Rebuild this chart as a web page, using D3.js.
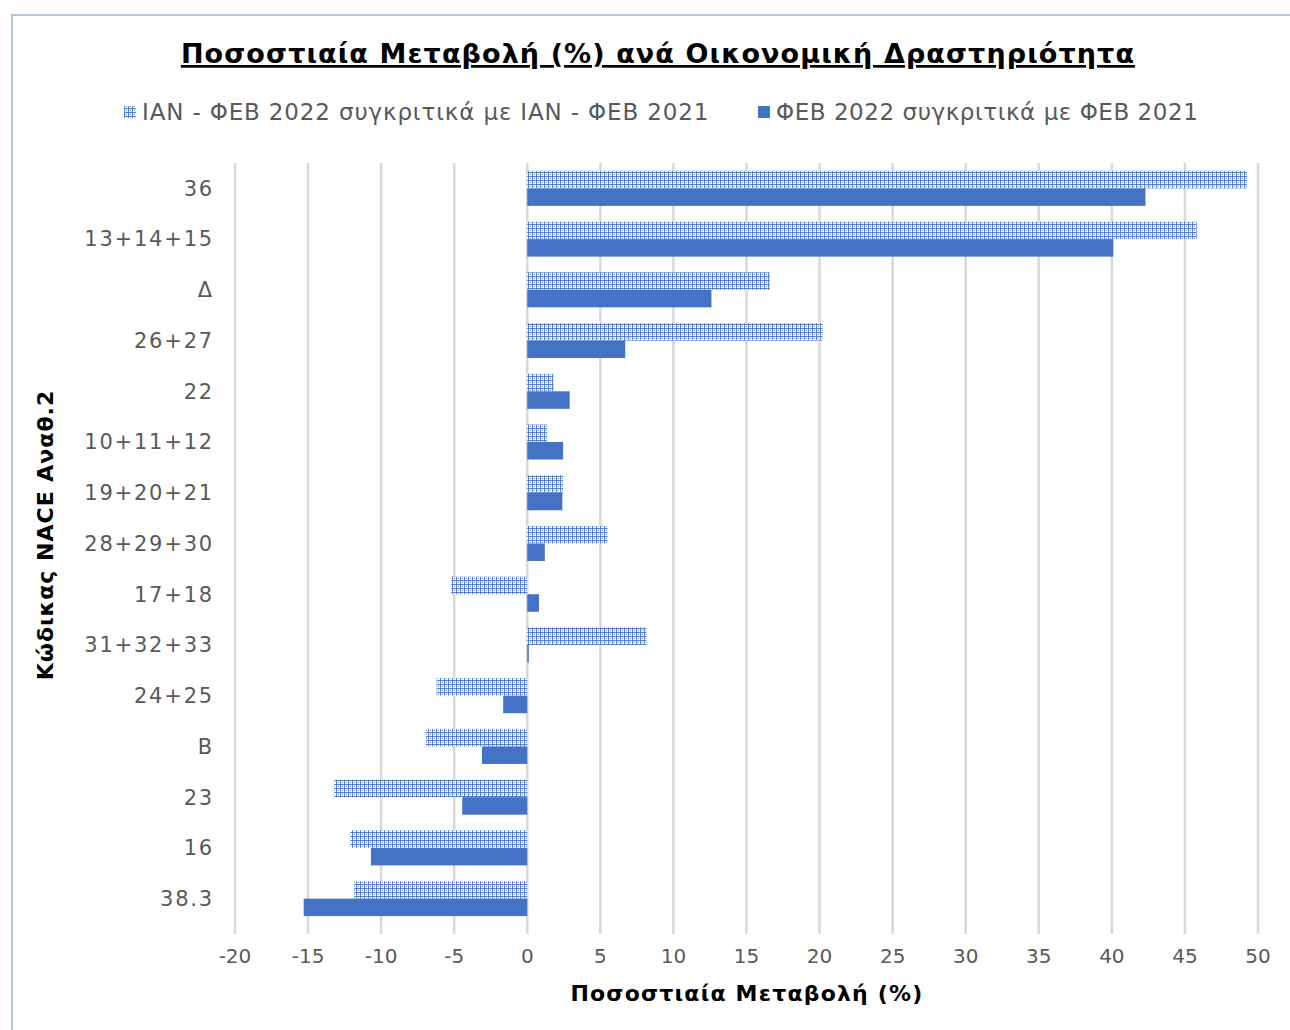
<!DOCTYPE html>
<html><head><meta charset="utf-8">
<script src="https://cdn.jsdelivr.net/npm/d3@7"></script>
<style>body{margin:0;background:#fff}svg{display:block}</style>
</head><body>
<script>
const categories = ["36","13+14+15","Δ","26+27","22","10+11+12","19+20+21","28+29+30","17+18","31+32+33","24+25","Β","23","16","38.3"];
const seriesNames = ["ΙΑΝ - ΦΕΒ 2022 συγκριτικά με ΙΑΝ - ΦΕΒ 2021","ΦΕΒ 2022 συγκριτικά με ΦΕΒ 2021"];
const janFeb = [49.25,45.8,16.6,20.2,1.8,1.35,2.45,5.5,-5.2,8.15,-6.2,-6.95,-13.2,-12.1,-11.85];
const feb = [42.3,40.1,12.6,6.7,2.9,2.45,2.4,1.2,0.8,0.1,-1.65,-3.1,-4.45,-10.7,-15.3];
const xTicks = [-20,-15,-10,-5,0,5,10,15,20,25,30,35,40,45,50];
const title = "Ποσοστιαία Μεταβολή (%) ανά Οικονομική Δραστηριότητα";
const xTitle = "Ποσοστιαία Μεταβολή (%)";
const yTitle = "Κώδικας NACE Αναθ.2";

const W=1290,H=1030;
const svg=d3.select("body").append("svg").attr("width",W).attr("height",H);
const font="Verdana, 'DejaVu Sans', sans-serif";
const defs=svg.append("defs");
const pat=defs.append("pattern").attr("id","dots").attr("patternUnits","userSpaceOnUse").attr("width",4).attr("height",4);
pat.append("rect").attr("width",4).attr("height",4).attr("fill","#ffffff");
pat.append("rect").attr("x",0).attr("y",0).attr("width",4).attr("height",1).attr("fill","#5b84cc");
pat.append("rect").attr("x",0).attr("y",0).attr("width",1).attr("height",4).attr("fill","#5b84cc");
pat.append("rect").attr("x",0).attr("y",0).attr("width",1).attr("height",1).attr("fill","#4472c4");
pat.append("rect").attr("x",2).attr("y",2).attr("width",1).attr("height",1).attr("fill","#8faadc");
pat.append("rect").attr("x",2).attr("y",1).attr("width",1).attr("height",1).attr("fill","#c5d4ee");
pat.append("rect").attr("x",1).attr("y",2).attr("width",1).attr("height",1).attr("fill","#c5d4ee");

// frame
svg.append("path").attr("d",`M12,1030 V15 H1290`).attr("fill","none").attr("stroke","#b4c3e4").attr("stroke-width",2);

const x=d3.scaleLinear().domain([-20,50]).range([235,1258]);
const y=d3.scaleBand().domain(categories).range([163,924]).paddingInner(0.31).paddingOuter(0.155);
const sub=d3.scaleBand().domain([0,1]).range([0,y.bandwidth()]);

// grid
svg.append("g").selectAll("line").data(xTicks).join("line")
 .attr("x1",d=>x(d)).attr("x2",d=>x(d)).attr("y1",163).attr("y2",934)
 .attr("stroke","#d9d9d9").attr("stroke-width",2.5);

const g=svg.append("g");
g.selectAll("rect.a").data(categories).join("rect").attr("class","a")
 .attr("x",(d,i)=>x(Math.min(0,janFeb[i]))).attr("width",(d,i)=>Math.abs(x(janFeb[i])-x(0)))
 .attr("y",d=>y(d)).attr("height",sub.bandwidth()).attr("fill","url(#dots)");
g.selectAll("rect.b").data(categories).join("rect").attr("class","b")
 .attr("x",(d,i)=>x(Math.min(0,feb[i]))).attr("width",(d,i)=>Math.max(1.5,Math.abs(x(feb[i])-x(0))))
 .attr("y",d=>y(d)+sub(1)).attr("height",sub.bandwidth()).attr("fill","#4472c4");

// y labels
svg.append("g").selectAll("text").data(categories).join("text")
 .attr("x",214).attr("y",d=>y(d)+y.bandwidth()/2).attr("dy","0.35em").attr("text-anchor","end")
 .attr("font-family",font).attr("font-size",21).attr("letter-spacing",1.8).attr("fill","#595959").text(d=>d);
// x labels
svg.append("g").selectAll("text").data(xTicks).join("text")
 .attr("x",d=>x(d)).attr("y",956).attr("dy","0.35em").attr("text-anchor","middle")
 .attr("font-family",font).attr("font-size",20).attr("fill","#595959").text(d=>d);

// titles
svg.append("text").attr("x",658).attr("y",63).attr("text-anchor","middle")
 .attr("font-family",font).attr("font-weight","bold").attr("font-size",27).attr("letter-spacing",1.1).attr("fill","#000")
 .attr("text-decoration","underline").text(title);
svg.append("text").attr("x",747).attr("y",1001).attr("text-anchor","middle")
 .attr("font-family",font).attr("font-weight","bold").attr("font-size",22).attr("letter-spacing",1.2).attr("fill","#000").text(xTitle);
svg.append("text").attr("transform","translate(53,535) rotate(-90)").attr("text-anchor","middle")
 .attr("font-family",font).attr("font-weight","bold").attr("font-size",22).attr("letter-spacing",1.0).attr("fill","#000").text(yTitle);

// legend
const leg=[{x:124,fill:"url(#dots)",t:seriesNames[0],ls:0.85},{x:758,fill:"#4472c4",t:seriesNames[1],ls:0.55}];
leg.forEach(l=>{
 svg.append("rect").attr("x",l.x).attr("y",106).attr("width",12).attr("height",12).attr("fill",l.fill);
 svg.append("text").attr("x",l.x+18).attr("y",112).attr("dy","0.35em")
  .attr("font-family",font).attr("font-size",23).attr("letter-spacing",l.ls).attr("fill","#595959").text(l.t);
});
</script>
</body></html>
